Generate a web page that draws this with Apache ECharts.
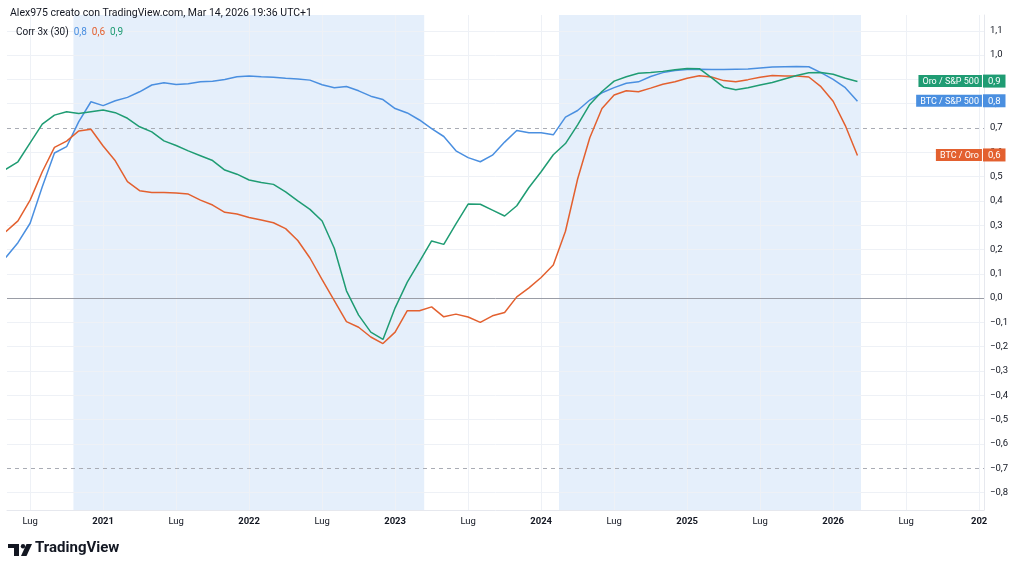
<!DOCTYPE html>
<html>
<head>
<meta charset="utf-8">
<style>
  html, body { margin: 0; padding: 0; background: #fff; }
  #main { width: 1024px; height: 568px; }
</style>
<script src="https://cdn.jsdelivr.net/npm/echarts@6.0.0/dist/echarts.min.js"></script>
</head>
<body>
<div id="main"></div>
<script>
// dati mensili, da maggio 2020 a marzo 2026
var firstMonth = -8; // mesi da gennaio 2021 (maggio 2020)

var btcSpx = [
  0.167, 0.228, 0.308, 0.458, 0.597, 0.623, 0.726, 0.808,
  0.792, 0.812, 0.826, 0.849, 0.877, 0.886, 0.879, 0.882, 0.890, 0.892, 0.900, 0.911,
  0.914, 0.911, 0.909, 0.905, 0.902, 0.897, 0.878, 0.866, 0.871, 0.853, 0.831, 0.817,
  0.780, 0.762, 0.733, 0.697, 0.665, 0.606, 0.578, 0.561, 0.588, 0.642, 0.690, 0.680,
  0.680, 0.672, 0.745, 0.772, 0.815, 0.845, 0.866, 0.884, 0.890, 0.912, 0.928, 0.937,
  0.941, 0.942, 0.941, 0.941, 0.942, 0.943, 0.947, 0.951, 0.952, 0.953, 0.952, 0.928,
  0.900, 0.866, 0.810
];
var oroSpx = [
  0.530, 0.561, 0.639, 0.716, 0.753, 0.767, 0.760, 0.767,
  0.774, 0.763, 0.740, 0.705, 0.684, 0.647, 0.628, 0.606, 0.586, 0.566, 0.527, 0.510,
  0.486, 0.476, 0.468, 0.437, 0.400, 0.365, 0.317, 0.205, 0.030, -0.070, -0.140, -0.170,
  -0.040, 0.066, 0.150, 0.235, 0.221, 0.305, 0.387, 0.386, 0.362, 0.338, 0.380, 0.455,
  0.520, 0.590, 0.636, 0.713, 0.797, 0.850, 0.893, 0.911, 0.925, 0.928, 0.933, 0.940,
  0.945, 0.944, 0.907, 0.868, 0.857, 0.866, 0.877, 0.887, 0.902, 0.916, 0.927, 0.928,
  0.921, 0.905, 0.891
];
var btcOro = [
  0.273, 0.318, 0.403, 0.520, 0.620, 0.646, 0.688, 0.695,
  0.626, 0.565, 0.479, 0.442, 0.435, 0.435, 0.433, 0.428, 0.403, 0.383, 0.353, 0.346,
  0.332, 0.321, 0.310, 0.286, 0.237, 0.165, 0.076, -0.010, -0.097, -0.120, -0.160, -0.187,
  -0.140, -0.052, -0.052, -0.036, -0.077, -0.066, -0.078, -0.100, -0.073, -0.059, 0.005, 0.042,
  0.085, 0.136, 0.275, 0.490, 0.660, 0.780, 0.836, 0.853, 0.849, 0.864, 0.880, 0.890,
  0.905, 0.915, 0.910, 0.895, 0.890, 0.899, 0.909, 0.916, 0.914, 0.914, 0.910, 0.870,
  0.810, 0.710, 0.587
];

var xTicks = [-6, 0, 6, 12, 18, 24, 30, 36, 42, 48, 54, 60, 66, 72];
var xTickLabels = ['Lug', '2021', 'Lug', '2022', 'Lug', '2023', 'Lug', '2024', 'Lug', '2025', 'Lug', '2026', 'Lug', '202'];
var yTicks = [-0.8, -0.7, -0.6, -0.5, -0.4, -0.3, -0.2, -0.1, 0, 0.1, 0.2, 0.3, 0.4, 0.5, 0.6, 0.7, 0.8, 0.9, 1.0, 1.1];
// zone evidenziate (in mesi da gennaio 2021)
var shadeRanges = [[-2.44, 26.39], [37.47, 62.29]];

var xMin = -7.9, xMax = 72.4;
var colBlue = '#4a8fe0', colRed = '#e3602f', colGreen = '#1f9c73';

function toPairs(arr) {
    var out = [];
    for (var i = 0; i < arr.length; i++) {
        out.push([firstMonth + i, arr[i]]);
    }
    return out;
}
function fmt(v) {
    var s = Math.abs(v).toFixed(1).replace('.', ',');
    return (v < -0.0001 ? '\u2212' : '') + s;
}
function endTag(name, arr, color) {
    var last = arr[arr.length - 1];
    return {
        symbol: 'rect',
        symbolSize: 1,
        z: 10,
        itemStyle: { color: 'rgba(0,0,0,0)' },
        data: [{
            coord: [xMax, last],
            label: {
                show: true,
                position: [22, 0],
                align: 'right',
                verticalAlign: 'middle',
                formatter: '{n|' + name + '}{s|}{v|' + fmt(last) + '}',
                rich: {
                    n: { color: '#fff', fontSize: 9, fontFamily: 'Roboto', backgroundColor: color, padding: [2, 3, 1, 4], lineHeight: 12 },
                    s: { width: 1, height: 12, backgroundColor: 'rgba(255,255,255,0.55)' },
                    v: { color: '#fff', fontSize: 9.5, fontFamily: 'Roboto', backgroundColor: color, padding: [2, 5, 1, 5], lineHeight: 12 }
                }
            }
        }]
    };
}

var myChart = echarts.init(document.getElementById('main'));

var gridLinesY = [];
for (var i = 0; i < yTicks.length; i++) {
    if (Math.abs(yTicks[i]) > 0.0001 && Math.abs(Math.abs(yTicks[i]) - 0.7) > 0.0001) {
        gridLinesY.push({ yAxis: yTicks[i] });
    }
}
var gridLinesX = [];
for (var j = 0; j < xTicks.length; j++) {
    gridLinesX.push({ xAxis: xTicks[j] });
}
var areas = [];
for (var k = 0; k < shadeRanges.length; k++) {
    areas.push([{ xAxis: shadeRanges[k][0] }, { xAxis: shadeRanges[k][1] }]);
}

option = {
    animation: false,
    backgroundColor: '#ffffff',
    title: [
        {
            text: 'Alex975 creato con TradingView.com, Mar 14, 2026 19:36 UTC+1',
            left: 5, top: 3,
            textStyle: { fontSize: 10.5, fontWeight: 'normal', color: '#131722', fontFamily: 'Roboto' }
        },
        {
            text: '{a|Corr 3x (30)}  {b|0,8}  {c|0,6}  {d|0,9}',
            left: 11, top: 22,
            textStyle: {
                fontSize: 10, fontWeight: 'normal', fontFamily: 'Roboto',
                rich: {
                    a: { color: '#131722', fontSize: 10, fontFamily: 'Roboto' },
                    b: { color: colBlue, fontSize: 10, fontFamily: 'Roboto' },
                    c: { color: colRed, fontSize: 10, fontFamily: 'Roboto' },
                    d: { color: colGreen, fontSize: 10, fontFamily: 'Roboto' }
                }
            }
        }
    ],
    grid: { left: 7, right: 40, top: 15, bottom: 58 },
    xAxis: {
        type: 'value',
        min: xMin,
        max: xMax,
        axisLine: { show: true, onZero: false, lineStyle: { color: '#e6e8ee' } },
        axisTick: { show: false },
        splitLine: { show: false },
        axisLabel: {
            customValues: xTicks,
            margin: 7,
            fontSize: 9.5,
            fontFamily: 'Roboto',
            color: '#131722',
            formatter: function (v) {
                var idx = xTicks.indexOf(Math.round(v));
                if (idx < 0) return '';
                var t = xTickLabels[idx];
                return t === 'Lug' ? '{m|' + t + '}' : '{y|' + t + '}';
            },
            rich: {
                m: { fontSize: 9.5, fontFamily: 'Roboto', color: '#131722' },
                y: { fontSize: 9.5, fontFamily: 'Roboto', fontWeight: 'bold', color: '#131722' }
            }
        }
    },
    yAxis: {
        type: 'value',
        position: 'right',
        min: -0.872,
        max: 1.165,
        axisLine: { show: true, onZero: false, lineStyle: { color: '#e6e8ee' } },
        axisTick: { show: false },
        splitLine: { show: false },
        axisLabel: {
            customValues: yTicks,
            margin: 6,
            fontSize: 9.5,
            fontFamily: 'Roboto',
            color: '#131722',
            formatter: function (v) { return fmt(v); }
        }
    },
    series: [
        {
            name: 'sfondo',
            type: 'line',
            data: [],
            z: 1,
            silent: true,
            markArea: {
                silent: true,
                z: 1,
                itemStyle: { color: '#e5effb' },
                data: areas
            },
            markLine: {
                silent: true,
                z: 1,
                symbol: 'none',
                label: { show: false },
                lineStyle: { color: '#eef1f6', width: 1, type: 'solid' },
                data: gridLinesY.concat(gridLinesX)
            }
        },
        {
            name: 'livelli',
            type: 'line',
            data: [],
            z: 2,
            silent: true,
            markLine: {
                silent: true,
                z: 2,
                symbol: 'none',
                label: { show: false },
                data: [
                    { yAxis: 0.7, lineStyle: { color: '#a9acb4', width: 1, type: [4, 4] } },
                    { yAxis: -0.7, lineStyle: { color: '#a9acb4', width: 1, type: [4, 4] } },
                    { yAxis: 0, lineStyle: { color: '#9a9da6', width: 1, type: 'solid' } }
                ]
            }
        },
        {
            name: 'BTC / S&P 500',
            type: 'line',
            data: toPairs(btcSpx),
            z: 3,
            symbol: 'none',
            lineStyle: { color: colBlue, width: 1.5 },
            itemStyle: { color: colBlue },
            markPoint: endTag('BTC / S&P 500', btcSpx, colBlue)
        },
        {
            name: 'BTC / Oro',
            type: 'line',
            data: toPairs(btcOro),
            z: 3,
            symbol: 'none',
            lineStyle: { color: colRed, width: 1.5 },
            itemStyle: { color: colRed },
            markPoint: endTag('BTC / Oro', btcOro, colRed)
        },
        {
            name: 'Oro / S&P 500',
            type: 'line',
            data: toPairs(oroSpx),
            z: 3,
            symbol: 'none',
            lineStyle: { color: colGreen, width: 1.5 },
            itemStyle: { color: colGreen },
            markPoint: endTag('Oro / S&P 500', oroSpx, colGreen)
        }
    ],
    graphic: [
        {
            type: 'group',
            left: 8,
            top: 541,
            children: [
                { type: 'rect', shape: { x: 0, y: 0, width: 11, height: 4 }, style: { fill: '#131722' } },
                { type: 'rect', shape: { x: 6, y: 0, width: 5, height: 12 }, style: { fill: '#131722' } },
                { type: 'circle', shape: { cx: 15, cy: 2.2, r: 2.2 }, style: { fill: '#131722' } },
                { type: 'polygon', shape: { points: [[13, 12], [18.5, 0], [24, 0], [18.5, 12]] }, style: { fill: '#131722' } },
                {
                    type: 'text',
                    x: 27, y: -3,
                    style: { text: 'TradingView', fill: '#131722', font: 'bold 15px Roboto' }
                }
            ]
        }
    ]
};

if (option && typeof option === "object") {
    myChart.setOption(option, true);
}
</script>
</body>
</html>
